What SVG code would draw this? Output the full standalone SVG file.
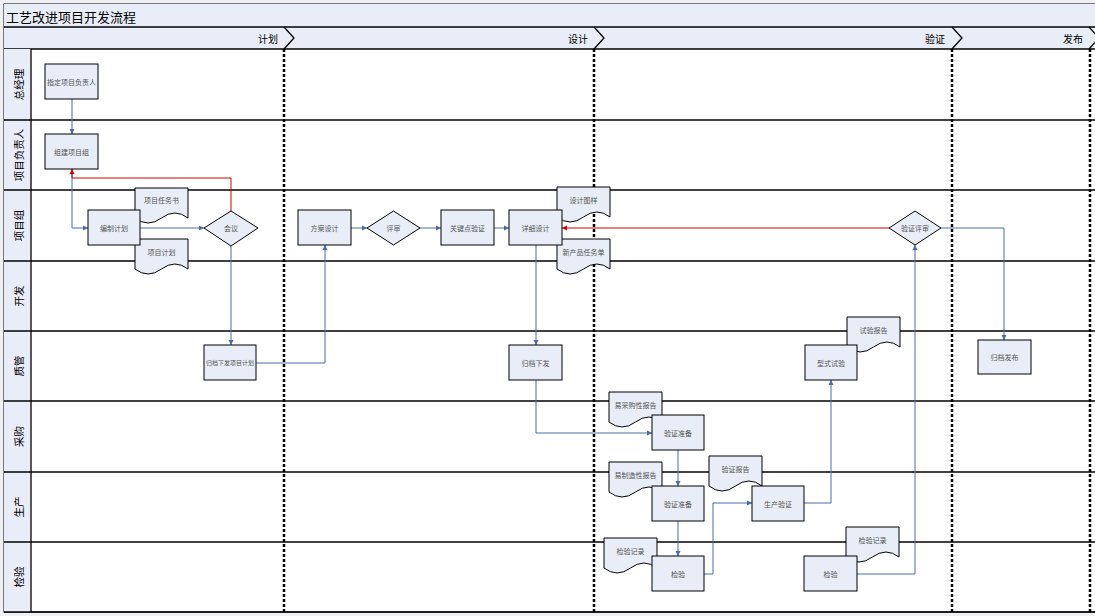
<svg xmlns="http://www.w3.org/2000/svg" xmlns:xlink="http://www.w3.org/1999/xlink" width="1095" height="616" viewBox="0 0 1095 616">
<style>
text{font-family:"Noto Sans CJK SC","Liberation Sans",sans-serif}
.box{fill:#e8edf7;stroke:#000;stroke-width:1}
.doc{fill:#e8edf7;stroke:#000;stroke-width:1}
.t{font-size:7px;fill:#555;text-anchor:middle;dominant-baseline:central}
.lane{font-size:10.5px;fill:#000;text-anchor:middle;dominant-baseline:central}
.ph{font-size:10px;fill:#000;text-anchor:end;dominant-baseline:central}
.ln{stroke:#000;stroke-width:1.3;fill:none}
.dash{stroke:#000;stroke-width:2.5;stroke-dasharray:3,2;fill:none}
.c{stroke:#4a6aa8;stroke-width:1;fill:none;marker-end:url(#ab)}
.r{stroke:#d00000;stroke-width:1;fill:none;marker-end:url(#ar)}
</style>
<defs>
<marker id="ab" markerWidth="6" markerHeight="6" refX="5" refY="3" orient="auto" markerUnits="userSpaceOnUse"><path d="M0,0.5 L5,3 L0,5.5 Z" fill="#4a6aa8"/></marker>
<marker id="ar" markerWidth="6" markerHeight="6" refX="5" refY="3" orient="auto" markerUnits="userSpaceOnUse"><path d="M0,0.5 L5,3 L0,5.5 Z" fill="#d00000"/></marker>
<path id="docshape" class="doc" d="M0,0 H53 V30 Q40,20 26.5,30 T0,30 Z"/>
</defs>
<rect x="0" y="0" width="1095" height="616" fill="#eef0f3"/>
<rect x="4" y="4" width="1095" height="608" fill="#fff" stroke="#000" stroke-width="1"/>
<!-- title and phase header -->
<g id="header">
<rect x="4" y="4" width="1095" height="45" fill="#e8edf7"/>
<text x="6" y="16" style="font-size:13px;fill:#000;dominant-baseline:central">工艺改进项目开发流程</text>
<line class="ln" x1="4" y1="27" x2="1095" y2="27"/>
<line class="ln" x1="4" y1="49" x2="1095" y2="49"/>
<path class="ln" d="M284,27 L294,38 L284,49"/>
<path class="ln" d="M594,27 L604,38 L594,49"/>
<path class="ln" d="M952,27 L962,38 L952,49"/>
<path class="ln" d="M1089,27 L1099,38 L1089,49"/>
<text class="ph" x="278" y="38">计划</text>
<text class="ph" x="588" y="38">设计</text>
<text class="ph" x="945" y="38">验证</text>
<text class="ph" x="1083" y="38">发布</text>
</g>
<!-- lanes -->
<g id="lanes">
<rect x="4" y="49" width="27" height="563" fill="#e8edf7"/>
<line class="ln" x1="31" y1="49" x2="31" y2="612"/>
<line class="ln" x1="4" y1="120" x2="1095" y2="120"/>
<line class="ln" x1="4" y1="190" x2="1095" y2="190"/>
<line class="ln" x1="4" y1="261" x2="1095" y2="261"/>
<line class="ln" x1="4" y1="331" x2="1095" y2="331"/>
<line class="ln" x1="4" y1="401" x2="1095" y2="401"/>
<line class="ln" x1="4" y1="472" x2="1095" y2="472"/>
<line class="ln" x1="4" y1="542" x2="1095" y2="542"/>
<line class="ln" x1="4" y1="612" x2="1095" y2="612"/>
<text class="lane" transform="translate(18,84.5) rotate(-90)">总经理</text>
<text class="lane" transform="translate(18,155) rotate(-90)">项目负责人</text>
<text class="lane" transform="translate(18,225.5) rotate(-90)">项目组</text>
<text class="lane" transform="translate(18,296) rotate(-90)">开发</text>
<text class="lane" transform="translate(18,366) rotate(-90)">质管</text>
<text class="lane" transform="translate(18,436.5) rotate(-90)">采购</text>
<text class="lane" transform="translate(18,507) rotate(-90)">生产</text>
<text class="lane" transform="translate(18,577) rotate(-90)">检验</text>
<line class="dash" x1="284" y1="49" x2="284" y2="612"/>
<line class="dash" x1="594" y1="49" x2="594" y2="612"/>
<line class="dash" x1="952" y1="49" x2="952" y2="612"/>
<line class="dash" x1="1090" y1="49" x2="1090" y2="612"/>
</g>
<!-- connectors -->
<g id="connectors">
<path class="c" d="M72,99 V134"/>
<path class="c" d="M72,169 V228 H88"/>
<path class="r" d="M231,211 V178 H72 V169"/>
<path class="c" d="M140,228 H204"/>
<path class="c" d="M231,246 V345"/>
<path class="c" d="M256,363 H325 V245"/>
<path class="c" d="M351,228 H367"/>
<path class="c" d="M420,228 H441"/>
<path class="c" d="M494,228 H509"/>
<path class="c" d="M536,245 V345"/>
<path class="c" d="M536,380 V433 H652"/>
<path class="c" d="M678,450 V486"/>
<path class="c" d="M678,521 V556"/>
<path class="c" d="M704,574 H713 V503 H752"/>
<path class="c" d="M804,503 H831 V380"/>
<path class="c" d="M857,574 H915 V245"/>
<path class="r" d="M890,228 H562"/>
<path class="c" d="M941,228 H1004 V340"/>
</g>
<!-- documents -->
<g id="doc-xmrws"><use href="#docshape" x="135" y="188"/><text class="t" x="161.5" y="200">项目任务书</text></g>
<g id="doc-xmjh"><use href="#docshape" x="135" y="239"/><text class="t" x="161.5" y="252">项目计划</text></g>
<g id="doc-sjty"><use href="#docshape" x="557" y="187"/><text class="t" x="583.5" y="200">设计图样</text></g>
<g id="doc-xcprwd"><use href="#docshape" x="557" y="239"/><text class="t" x="583.5" y="252">新产品任务单</text></g>
<g id="doc-ycgxbg"><use href="#docshape" x="609" y="392"/><text class="t" x="635.5" y="405">易采购性报告</text></g>
<g id="doc-yzzxbg"><use href="#docshape" x="609" y="462"/><text class="t" x="635.5" y="475">易制造性报告</text></g>
<g id="doc-jyjl1"><use href="#docshape" x="604" y="538"/><text class="t" x="630.5" y="551">检验记录</text></g>
<g id="doc-yzbg"><use href="#docshape" x="709" y="456"/><text class="t" x="735.5" y="469">验证报告</text></g>
<g id="doc-sybg"><use href="#docshape" x="847" y="317"/><text class="t" x="873.5" y="330">试验报告</text></g>
<g id="doc-jyjl2"><use href="#docshape" x="846" y="527"/><text class="t" x="872.5" y="540">检验记录</text></g>
<!-- process nodes -->
<g id="n-zdfzr"><rect class="box" x="45" y="64" width="53" height="35"/><text class="t" x="71.5" y="81.5">指定项目负责人</text></g>
<g id="n-zjxmz"><rect class="box" x="45" y="134" width="53" height="35"/><text class="t" x="71.5" y="151.5">组建项目组</text></g>
<g id="n-bzjh"><rect class="box" x="88" y="210" width="52" height="35"/><text class="t" x="114" y="227.5">编制计划</text></g>
<g id="n-hy"><path class="box" d="M204,228 L231,211 L258,228 L231,246 Z"/><text class="t" x="231" y="228">会议</text></g>
<g id="n-gdxfjh"><rect class="box" x="204" y="345" width="52" height="35"/><text class="t" x="230" y="362.5" style="font-size:6px">归档下发项目计划</text></g>
<g id="n-fasj"><rect class="box" x="298" y="210" width="53" height="35"/><text class="t" x="324.5" y="227.5">方案设计</text></g>
<g id="n-ps"><path class="box" d="M367,228 L393.5,211 L420,228 L393.5,245 Z"/><text class="t" x="393.5" y="228">评审</text></g>
<g id="n-gjdyz"><rect class="box" x="441" y="210" width="53" height="35"/><text class="t" x="467.5" y="227.5">关键点验证</text></g>
<g id="n-xxsj"><rect class="box" x="509" y="210" width="53" height="35"/><text class="t" x="535.5" y="227.5">详细设计</text></g>
<g id="n-gdxf"><rect class="box" x="509" y="345" width="53" height="35"/><text class="t" x="535.5" y="362.5">归档下发</text></g>
<g id="n-yzzb1"><rect class="box" x="652" y="415" width="52" height="35"/><text class="t" x="678" y="432.5">验证准备</text></g>
<g id="n-yzzb2"><rect class="box" x="652" y="486" width="52" height="35"/><text class="t" x="678" y="503.5">验证准备</text></g>
<g id="n-jy1"><rect class="box" x="652" y="556" width="52" height="35"/><text class="t" x="678" y="573.5">检验</text></g>
<g id="n-scyz"><rect class="box" x="752" y="486" width="52" height="35"/><text class="t" x="778" y="503.5">生产验证</text></g>
<g id="n-xssy"><rect class="box" x="805" y="345" width="52" height="35"/><text class="t" x="831" y="362.5">型式试验</text></g>
<g id="n-jy2"><rect class="box" x="804" y="556" width="53" height="35"/><text class="t" x="830.5" y="573.5">检验</text></g>
<g id="n-yzps"><path class="box" d="M889,228 L915,211 L941,228 L915,245 Z"/><text class="t" x="915" y="228">验证评审</text></g>
<g id="n-gdfb"><rect class="box" x="978" y="340" width="53" height="34"/><text class="t" x="1004.5" y="357">归档发布</text></g>
</svg>
